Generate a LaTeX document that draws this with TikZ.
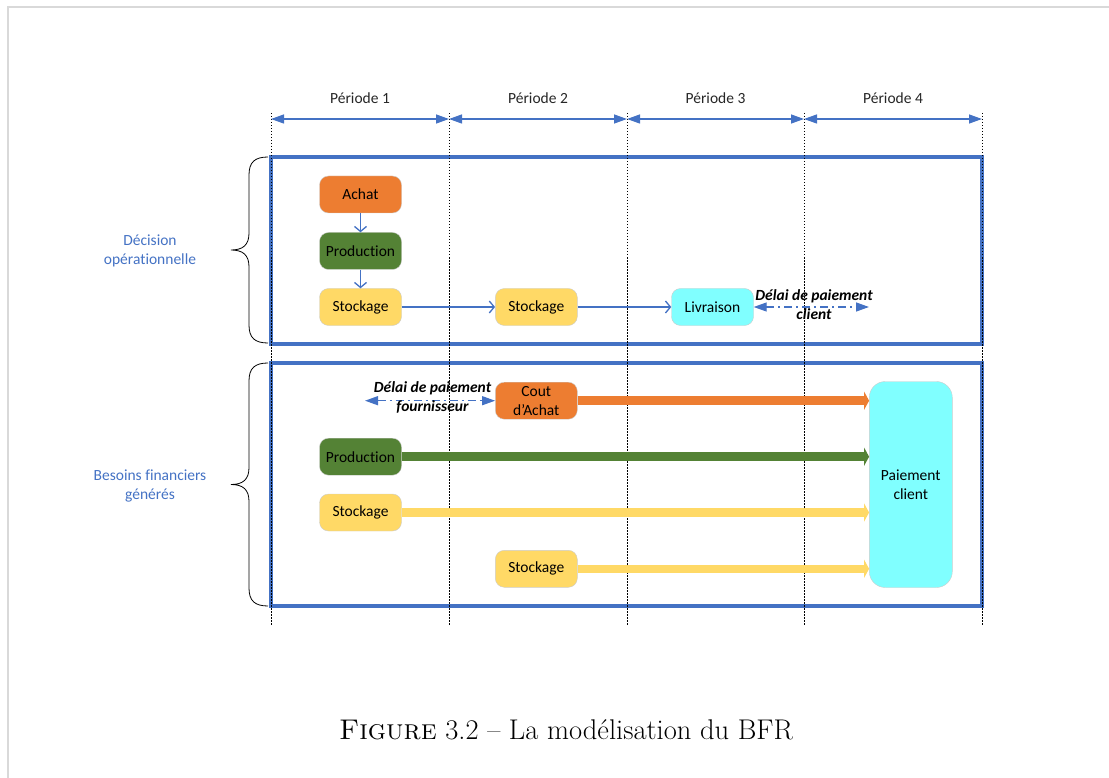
\documentclass[tikz,border=0pt]{standalone}
\usepackage{fontspec}
\newfontfamily\calibri[Ligatures=NoCommon]{Carlito}
\usetikzlibrary{arrows.meta}
\usetikzlibrary{calc}

\definecolor{bfrBleu}{HTML}{4472C4}
\definecolor{bfrOrange}{HTML}{ED7D31}
\definecolor{bfrVert}{HTML}{548235}
\definecolor{bfrJaune}{HTML}{FFD966}
\definecolor{bfrCyan}{HTML}{80FFFF}

\tikzset{
  etape/.style={draw=black!20, rounded corners=9pt, minimum width=82pt, minimum height=37pt,
                inner sep=2pt, align=center, text=black, font=\calibri\fontsize{15.5}{19}\selectfont},
  fleche/.style={bfrBleu, line width=1.3pt, -{Straight Barb[length=5pt,width=12pt]}},
  periode/.style={bfrBleu, line width=1.3pt, {Triangle[length=13pt,width=9pt]}-{Triangle[length=13pt,width=9pt]}},
  delai/.style={bfrBleu, line width=1.3pt, dash pattern=on 8pt off 4pt on 2pt off 4pt,
                {Triangle[length=13pt,width=9pt]}-{Triangle[length=13pt,width=9pt]}},
  flux/.style={line width=8.5pt, -{Triangle[length=5pt,width=18pt]}},
  limite/.style={black, line width=0.9pt, dash pattern=on 1.5pt off 1.5pt},
  cadre/.style={bfrBleu, line width=3.3pt},
  accolade/.style={black, line width=0.8pt},
  groupe/.style={align=center, text=bfrBleu, font=\calibri\fontsize{15.5}{18.5}\selectfont},
  delailabel/.style={align=center, inner sep=0pt, text=black, font=\calibri\bfseries\itshape\fontsize{15.5}{19}\selectfont},
}

\begin{document}
\begin{tikzpicture}[x=1pt,y=-1pt]
			\useasboundingbox (0,0) rectangle (1109,778);
			\draw[black!15, line width=1.5pt] (8,778) -- (8,7) -- (1109,7);

			\draw[cadre] (271,157) rectangle (982,344);
			\draw[cadre] (271,363) rectangle (982,606);

			\foreach \x [count=\i from 0] in {271,449,627,804,982} {
				\coordinate (p\i) at (\x,119);
				\draw[limite] (\x,113) -- (\x,625);
			}
			\foreach \i [evaluate=\i as \j using int(\i+1)] in {0,...,3}
				\draw[periode] (p\i) -- node[font=\calibri\fontsize{15.5}{19}\selectfont, text=black!85, yshift=21pt] (periode\j) {Période \j} (p\j);

			\foreach \haut/\bas in {157/343,363/606} {
				\pgfmathsetmacro\milieu{(\haut+\bas)/2}
				\draw[accolade] (268,\haut) .. controls (255,\haut) and (249,\haut+5) .. (249,\haut+18)
				                -- (249,\milieu-17) .. controls (249,\milieu-5) and (243,\milieu) .. (231,\milieu)
				                .. controls (243,\milieu) and (249,\milieu+5) .. (249,\milieu+17)
				                -- (249,\bas-18) .. controls (249,\bas-5) and (255,\bas) .. (268,\bas);
			}
			\node[groupe] (decision) at (150,251) {Décision\\opérationnelle};
			\node[groupe] (besoins) at (150,486) {Besoins financiers\\générés};

			\node[etape, fill=bfrOrange] (achat) at (360.5,194.5) {Achat};
			\node[etape, fill=bfrVert] (production1) at (360.5,251) {Production};
			\node[etape, fill=bfrJaune] (stockage1) at (360.5,307) {Stockage};
			\node[etape, fill=bfrJaune] (stockage2) at (536.3,307) {Stockage};
			\node[etape, fill=bfrCyan] (livraison) at (712.5,307) {Livraison};
			\draw[fleche] (achat) -- (production1);
			\draw[fleche] (production1) -- (stockage1);
			\draw[fleche] (stockage1) -- (stockage2);
			\draw[fleche] (stockage2) -- (livraison);

			\coordinate (finclient) at (869,307);
			\draw[delai] (livraison) -- (finclient);
			\node[delailabel] (delaiclient) at (814,304.5) {Délai de paiement\\client};

			\node[etape, fill=bfrOrange, inner sep=1pt] (cout) at (536.3,400.7) {Cout\\d’Achat};
			\node[etape, fill=bfrVert] (production2) at (360.5,456.7) {Production};
			\node[etape, fill=bfrJaune] (stockage3) at (360.5,512.5) {Stockage};
			\node[etape, fill=bfrJaune] (stockage4) at (536.3,568.8) {Stockage};
			\node[etape, fill=bfrCyan, minimum width=83pt, minimum height=206pt, rounded corners=16pt] (paiement) at (910.8,484.5) {Paiement\\client};

			\coordinate (debutfournisseur) at (365,400.7);
			\draw[delai] (debutfournisseur) -- (cout);
			\node[delailabel] (delaifournisseur) at (432.5,397.2) {Délai de paiement\\fournisseur};

			\draw[flux, bfrOrange] (cout) -- (cout -| paiement.west);
			\draw[flux, bfrVert] (production2) -- (production2 -| paiement.west);
			\draw[flux, bfrJaune] (stockage3) -- (stockage3 -| paiement.west);
			\draw[flux, bfrJaune] (stockage4) -- (stockage4 -| paiement.west);

			\node[font=\fontsize{28.5}{32}\selectfont] (legende) at (566,730) {\textsc{Figure} 3.2 -- La modélisation du BFR};
		\end{tikzpicture}
\end{document}
